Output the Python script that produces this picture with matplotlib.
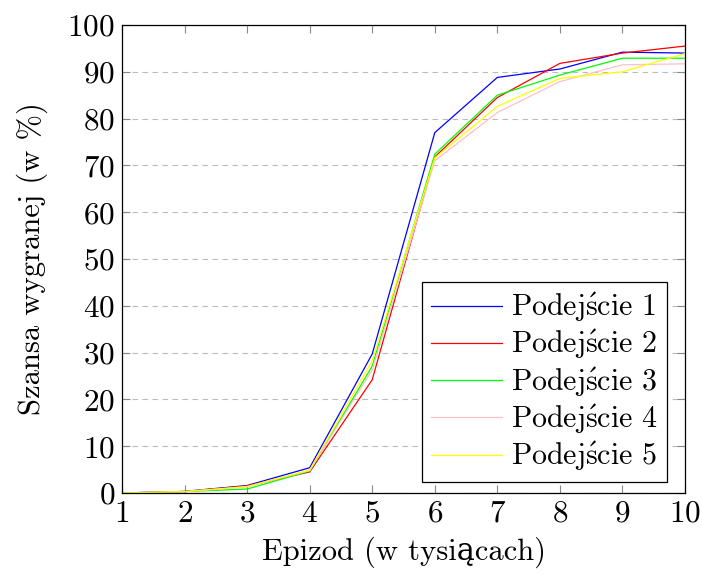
import matplotlib
matplotlib.use("Agg")
import matplotlib.pyplot as plt

plt.rcParams['font.family'] = ['cmr10', 'DejaVu Serif']
plt.rcParams['axes.formatter.use_mathtext'] = True
plt.rcParams['mathtext.fontset'] = 'cm'

episodes = [1, 2, 3, 4, 5, 6, 7, 8, 9, 10]
series_names = [r"Podej$\acute{\rm s}$cie 1", r"Podej$\acute{\rm s}$cie 2", r"Podej$\acute{\rm s}$cie 3",
                r"Podej$\acute{\rm s}$cie 4", r"Podej$\acute{\rm s}$cie 5"]
approach1 = [0.0, 0.35, 1.6, 5.4, 29.7, 77.0, 88.8, 90.6, 94.2, 94.0]
approach2 = [0.0, 0.3, 1.5, 4.5, 24.2, 71.8, 84.5, 91.8, 94.0, 95.5]
approach3 = [0.0, 0.3, 0.85, 4.7, 27.1, 72.4, 85.0, 89.3, 92.9, 92.9]
approach4 = [0.0, 0.3, 1.3, 4.8, 26.3, 71.0, 81.3, 87.9, 91.5, 91.7]
approach5 = [0.0, 0.3, 1.4, 4.9, 28.3, 71.6, 82.6, 88.6, 90.0, 93.9]
colors = ['#0000ff', '#ff0000', '#00ff00', '#ffc0cb', '#ffff00']
x_ticks = [1, 2, 3, 4, 5, 6, 7, 8, 9, 10]
y_ticks = [0, 10, 20, 30, 40, 50, 60, 70, 80, 90, 100]

fig = plt.figure(figsize=(7.02, 5.74), dpi=100)
ax = fig.add_axes([122/702, 81/574, 563/702, 468/574])

for vals, name, c in zip([approach1, approach2, approach3, approach4, approach5], series_names, colors):
    ax.plot(episodes, vals, color=c, lw=0.9, label=name)

ax.set_xlim(1, 10)
ax.set_ylim(0, 100)
ax.set_xticks(x_ticks)
ax.set_yticks(y_ticks)
ax.yaxis.grid(True, linestyle=(0, (5, 4)), color='#bbbbbb', lw=0.8)
ax.set_axisbelow(True)
ax.tick_params(direction='in', length=6, width=0.8, color='#888888', labelsize=22.5,
               top=True, right=True, pad=5)
for s in ax.spines.values():
    s.set_linewidth(0.9)
ax.set_xlabel("Epizod (w tysiącach)", fontsize=22, labelpad=6)
ax.set_ylabel("Szansa wygranej (w %)", fontsize=22, labelpad=14)

leg = ax.legend(loc='lower right', bbox_to_anchor=(0.968, 0.0235), fontsize=21.5, frameon=True,
                fancybox=False, edgecolor='black', framealpha=1, handlelength=2.4,
                handletextpad=0.3, borderpad=0.3, labelspacing=0.12, borderaxespad=0)
leg.get_frame().set_linewidth(0.9)

fig.savefig("out.png", dpi=100)
